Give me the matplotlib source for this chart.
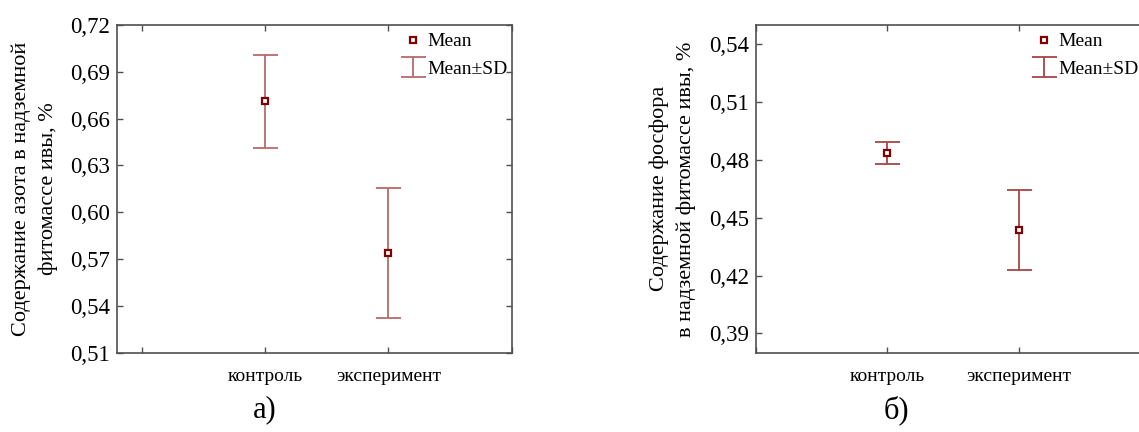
import matplotlib
matplotlib.use("Agg")
import matplotlib.pyplot as plt
from matplotlib.ticker import FixedLocator, FixedFormatter

plt.rcParams['font.family'] = ['Liberation Serif', 'DejaVu Serif']

categories = ['контроль', 'эксперимент']
nitrogen_mean = [0.671, 0.574]
nitrogen_sd = [0.030, 0.0415]
phosphorus_mean = [0.4835, 0.4436]
phosphorus_sd = [0.0057, 0.0207]

nitrogen_yticks = [0.51, 0.54, 0.57, 0.60, 0.63, 0.66, 0.69, 0.72]
phosphorus_yticks = [0.39, 0.42, 0.45, 0.48, 0.51, 0.54]

ylabel_a = 'Содержание азота в надземной\nфитомассе ивы, %'
ylabel_b = 'Содержание фосфора\nв надземной фитомассе ивы, %'

fig = plt.figure(figsize=(11.39, 4.32), dpi=100)
ax1 = fig.add_axes([117/1139, 1-352.7/432, (511.7-117)/1139, (352.7-25)/432])
ax2 = fig.add_axes([755.7/1139, 1-352.7/432, (1150-755.7)/1139, (352.7-25)/432])

mean_col = '#7f0000'
spine_col = '#505050'


def fmt(v):
    return f'{v:.2f}'.replace('.', ',')


def draw(ax, means, sds, yticks, ylim, xlim, bar_col, ylabel, leg_anchor):
    xs = [1, 2]
    ax.errorbar(xs, means, yerr=sds, fmt='none', ecolor=bar_col,
                elinewidth=1.3, capsize=9, capthick=1.3, label='Mean±SD', zorder=2)
    ax.plot(xs, means, ls='none', marker='s', markersize=4.5, mfc='white',
            mec=mean_col, mew=1.6, label='Mean', zorder=3)
    ax.set_xlim(*xlim)
    ax.set_ylim(*ylim)
    ax.yaxis.set_major_locator(FixedLocator(yticks))
    ax.yaxis.set_major_formatter(FixedFormatter([fmt(v) for v in yticks]))
    ax.xaxis.set_major_locator(FixedLocator([0, 1, 2, 3]))
    ax.xaxis.set_major_formatter(FixedFormatter(['', categories[0], categories[1], '']))
    ax.tick_params(axis='both', direction='in', length=4, width=1, color=spine_col,
                   top=True, right=True)
    ax.tick_params(axis='y', labelsize=16.5, pad=5)
    ax.tick_params(axis='x', labelsize=14, pad=11)
    for s in ax.spines.values():
        s.set_color(spine_col)
        s.set_linewidth(1.2)
    ax.set_ylabel(ylabel, fontsize=16, linespacing=1.5, labelpad=9)
    h, l = ax.get_legend_handles_labels()
    order = [l.index('Mean'), l.index('Mean±SD')]
    ax.legend([h[i] for i in order], [l[i] for i in order], loc='upper left',
              bbox_to_anchor=leg_anchor, frameon=False, fontsize=14,
              handlelength=0.85, handletextpad=0.3, labelspacing=0.5,
              borderaxespad=0, borderpad=0)


draw(ax1, nitrogen_mean, nitrogen_sd, nitrogen_yticks, (0.51, 0.72), (-0.2, 3.0),
     '#b86a6a', ylabel_a, (0.729, 0.976))
draw(ax2, phosphorus_mean, phosphorus_sd, phosphorus_yticks, (0.38, 0.55), (0, 3.0),
     '#a84444', ylabel_b, (0.710, 0.976))

fig.text(265/1139, 1-410/432, 'а)', fontsize=22, ha='center', va='center')
fig.text(896/1139, 1-410/432, 'б)', fontsize=22, ha='center', va='center')

fig.savefig('out.png', dpi=100)
